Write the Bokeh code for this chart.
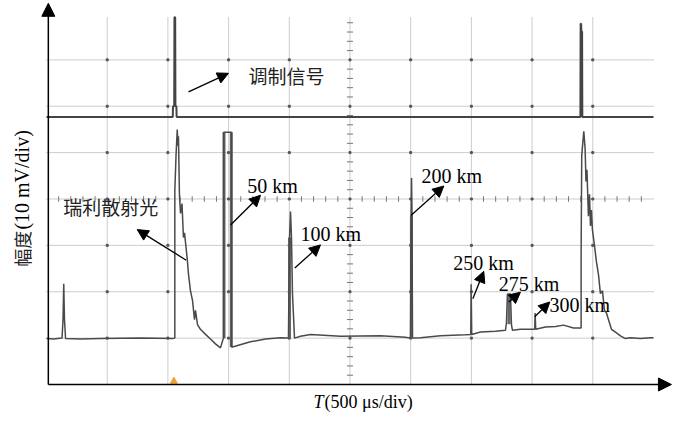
import numpy as np
from bokeh.plotting import figure
from bokeh.models import Range1d, Arrow, NormalHead
from bokeh.core.properties import value
from bokeh.embed import file_html
from bokeh.resources import INLINE

# ---------------- data (time in microseconds, amplitude in mV) ----------------
# modulation signal (upper trace)
mod_t = [0, 1040, 1042, 1052, 1054, 1060, 1062, 1070, 1072, 4398, 4400, 4404, 4406, 4412, 4414, 5000]
mod_v = [57.7, 57.7, 60.0, 60.0, 79.2, 79.2, 60.0, 60.0, 57.7, 57.7, 77.8, 77.8, 76.1, 76.1, 57.7, 57.7]

# Rayleigh back-scattered signal (lower trace)
ray_t = [0, 60, 128, 136, 142, 148, 157, 280, 445, 774, 1038,
         1057, 1057, 1067, 1077, 1083, 1087, 1095, 1104, 1116, 1128, 1137, 1159, 1170,
         1186, 1203, 1219, 1227, 1244, 1268, 1310, 1351, 1392, 1433, 1455,
         1460, 1460, 1524, 1524, 1532, 1680, 1804, 1927, 1985,
         1993, 1997, 2002, 2010, 2018, 2026, 2043, 2092, 2175, 2422, 2751, 2957,
         2998, 3004, 3007, 3011, 3015, 3081, 3245, 3451,
         3495, 3498, 3503, 3575, 3698, 3781,
         3789, 3797, 3822, 3830, 3838, 3904, 4011,
         4022, 4025, 4030, 4110, 4193, 4259, 4341, 4399,
         4404, 4404, 4409, 4426, 4437, 4444, 4452, 4464, 4473, 4481, 4489, 4497,
         4514, 4530, 4547, 4563, 4580, 4596, 4613, 4629, 4654, 4687, 4728, 4769,
         4810, 4893, 4975, 5000]
ray_v = [9.9, 9.8, 10.0, 14.0, 21.7, 14.0, 9.9, 9.8, 9.9, 10.0, 9.9,
         10.0, 41.7, 49.4, 55.0, 51.5, 53.5, 41.0, 36.9, 39.0, 31.7, 32.7, 27.1, 23.7,
         20.2, 18.1, 14.0, 16.0, 12.9, 11.9, 10.8, 9.8, 8.75, 7.9, 9.8,
         10.0, 54.4, 54.4, 8.1, 8.1, 9.2, 9.8, 10.1, 10.0,
         10.0, 19.8, 31.7, 37.3, 31.7, 19.8, 10.0, 10.4, 10.8, 10.4, 10.5, 10.2,
         10.0, 36.5, 44.5, 36.5, 10.0, 10.1, 10.5, 10.7,
         10.8, 21.6, 10.8, 11.3, 11.5, 11.7,
         13.3, 19.5, 19.5, 12.9, 11.7, 11.9, 11.9,
         11.9, 15.4, 11.9, 12.4, 12.5, 12.8, 12.2, 12.2,
         12.2, 28.2, 49.4, 54.6, 50.8, 43.8, 46.3, 36.3, 41.0, 34.2, 37.6, 33.4,
         30.0, 26.5, 23.7, 19.6, 20.2, 16.0, 15.4, 14.0, 11.9, 11.3, 10.5, 9.9,
         10.1, 9.9, 10.1, 10.1]

# thick parts of the reflection pulses
bar_t = [1462, 1522, 2002, 3006, 3810]
bar_lo = [10.0, 8.1, 10.0, 10.0, 13.0]
bar_hi = [54.4, 54.4, 31.7, 36.5, 19.5]

# annotations
labels = ["50 km", "100 km", "200 km", "250 km", "275 km", "300 km"]
label_t = [1653, 2092, 3089, 3350, 3726, 4143]
label_v = [42.9, 32.4, 45.0, 26.3, 21.7, 17.1]
arrow_t0 = [1516, 2045, 3004, 3512, 3808, 4022]
arrow_v0 = [34.4, 25.1, 36.5, 18.5, 17.8, 14.6]
arrow_t1 = [1763, 2257, 3273, 3602, 3904, 4146]
arrow_v1 = [40.8, 30.1, 42.8, 24.4, 19.9, 17.8]

cn_labels = ["调制信号", "瑞利散射光"]
cn_t = [1664, 138]
cn_v = [66.7, 38.3]
cn_arrow_t0 = [1170, 1151]
cn_arrow_v0 = [63.1, 26.8]
cn_arrow_t1 = [1499, 747]
cn_arrow_v1 = [67.1, 33.4]

div_t = 500.0   # us per division
div_v = 10.0    # mV per division
n_div_t = 10
n_div_v = 8

# ---------------- figure ----------------
p = figure(width=673, height=412, output_backend="svg", toolbar_location=None,
           x_range=Range1d(-379, 5165), y_range=Range1d(-6.04, 82.80),
           x_axis_location=None, y_axis_location=None, min_border=0)
p.grid.visible = False
p.outline_line_color = None
p.background_fill_color = "white"

# graticule
gx = [div_t * k for k in range(1, n_div_t)]
gy = [div_v * k for k in range(1, n_div_v)]
p.segment(x0=gx, y0=[0] * len(gx), x1=gx, y1=[79.2] * len(gx),
          line_color="#9a9a9a", line_width=1, line_dash="1 1")
p.segment(x0=[0] * len(gy), y0=gy, x1=[div_t * n_div_t] * len(gy), y1=gy,
          line_color="#9a9a9a", line_width=1, line_dash="1 1")
ix, iy = np.meshgrid(gx, gy)
p.scatter(ix.ravel(), iy.ravel(), marker="square", size=2, color="#555555")

# minor ticks on the centre lines
ct = div_t * n_div_t / 2
cv = div_v * n_div_v / 2
mv = [v for v in np.arange(0, 80.1, 2.0) if abs(v % 10) > 1e-6]
p.segment(x0=[ct - 25] * len(mv), y0=mv, x1=[ct + 25] * len(mv), y1=mv,
          line_color="#777777", line_width=1)
mt = [t for t in np.arange(0, 5000.1, 100.0) if abs(t % 500) > 1e-6]
p.segment(x0=mt, y0=[cv - 0.6] * len(mt), x1=mt, y1=[cv + 0.6] * len(mt),
          line_color="#777777", line_width=1)

# traces
p.line(mod_t, mod_v, line_color="#444444", line_width=2)
p.segment(x0=bar_t, y0=bar_lo, x1=bar_t, y1=bar_hi, line_color="#666666", line_width=3)
p.line(ray_t, ray_v, line_color="#4a4a4a", line_width=1.5)

# axes with arrows
p.add_layout(Arrow(end=NormalHead(size=13, fill_color="black", line_color="black"),
                   x_start=15, y_start=0, x_end=15, y_end=82.2,
                   line_color="black", line_width=1.5))
p.add_layout(Arrow(end=NormalHead(size=13, fill_color="black", line_color="black"),
                   x_start=15, y_start=0, x_end=5148, y_end=0,
                   line_color="black", line_width=1.5))
p.scatter([1049], [0.7], marker="triangle", size=7, color="#f0a030")

# annotation arrows
for a, b, c, d in zip(arrow_t0 + cn_arrow_t0, arrow_v0 + cn_arrow_v0,
                      arrow_t1 + cn_arrow_t1, arrow_v1 + cn_arrow_v1):
    p.add_layout(Arrow(end=NormalHead(size=11, fill_color="black", line_color="black"),
                       x_start=a, y_start=b, x_end=c, y_end=d,
                       line_color="black", line_width=1.3))

p.text(x=label_t, y=label_v, text=labels, text_font=value("Liberation Serif"),
       text_font_size="20px", text_baseline="middle", text_align="left", text_color="black")
p.text(x=cn_t, y=cn_v, text=cn_labels, text_font=value("Noto Sans CJK SC"),
       text_font_size="19px", text_baseline="middle", text_align="left", text_color="#222222")

# axis titles
p.text(x=[2200], y=[-3.88], text=["T"], text_font=value("Liberation Serif"),
       text_font_style="italic", text_font_size="18px", text_baseline="alphabetic",
       text_align="left", text_color="black")
p.text(x=[2290], y=[-3.88], text=["(500 μs/div)"], text_font=value("Liberation Serif"),
       text_font_size="18px", text_baseline="alphabetic", text_align="left", text_color="black")
p.text(x=[-202], y=[25.4], text=["幅度"], text_font=value("Noto Sans CJK SC"),
       text_font_size="18px", text_baseline="middle", text_align="left",
       angle=np.pi / 2, text_color="#222222")
p.text(x=[-202], y=[33.4], text=["(10 mV/div)"], text_font=value("Liberation Serif"),
       text_font_size="20px", text_baseline="middle", text_align="left",
       angle=np.pi / 2, text_color="black")

open("out.html", "w").write(file_html(p, INLINE))
